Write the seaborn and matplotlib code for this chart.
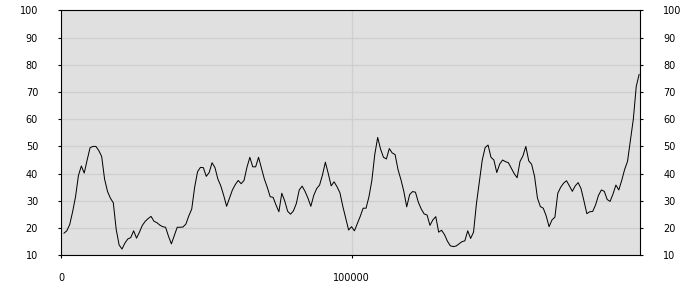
import matplotlib
matplotlib.use("Agg")
import matplotlib.pyplot as plt
import seaborn as sns
import numpy as np
import pandas as pd

# x positions in thousands (1..199) -> data units
x_thousands = list(range(1, 200))
values = [
    18.1, 19, 21.3, 26, 31.5, 39.3, 42.8, 40.2, 45, 49.5, 50, 50, 48.5, 46.3, 38, 33.5, 31, 29.3, 19.5, 13.8,
    12.3, 14.5, 16, 16.5, 19, 16.3, 18.5, 21, 22.5, 23.5, 24.3, 22.5, 22,
    21.1, 20.5, 20.3, 17, 14.2, 17.3, 20.3, 20.3, 20.4, 21.5, 24.5, 27, 35, 40.7, 42.3, 42.2, 39, 40.4, 44,
    42.2, 38, 35.5, 32, 28, 31, 34, 36, 37.5, 36.3, 37.5, 42.3, 46, 42.5,
    42.5, 46, 42, 38, 35, 31.5, 31.3, 28.5, 26, 32.8, 30, 26.2, 25.1, 26.3, 29, 34, 35.4, 33.5, 31, 28,
    32, 34.5, 35.8, 39.5, 44.2, 40, 35.5, 37, 35.2, 33, 28, 23.6, 19.3, 20.5,
    19, 21.7, 24.3, 27.3, 27.3, 31.5, 37.5, 47, 53.3, 49, 46, 45.4, 49.2, 47.6, 47, 41.5, 37.8, 33.5, 27.8,
    32.3, 33.4, 33.2, 29.5, 27, 25.2, 24.8, 21, 23, 24.2, 18.5, 19.2, 17.6, 15.2,
    13.5, 13.2, 13.4, 14.2, 15, 15.3, 19, 16.2, 18.5, 29, 37, 45, 49.6, 50.5, 46, 45, 40.4, 43.5, 45, 44.4,
    44, 42, 40, 38.5, 44.5, 46.5, 50, 44.7, 43.4, 39, 31, 27.9, 27.3,
    24.5, 20.5, 23, 24, 32.8, 35, 36.5, 37.4, 35.5, 33.5, 35.5, 36.7, 34.5, 30, 25.3, 26, 26.1, 28.5, 32, 34,
    33.5, 30.5, 29.8, 32.5, 35.8, 34, 37.5, 41.5, 44.5, 52.3, 60, 72, 76.5,
]
x_ticks = [0, 100000]
x_tick_labels = ["0", "100000"]
y_ticks = [10, 20, 30, 40, 50, 60, 70, 80, 90, 100]
y_tick_labels = [str(v) for v in y_ticks]

df = pd.DataFrame({"x": [k * 1000 for k in x_thousands], "y": values})

sns.set_style("white")
plt.rcParams["font.family"] = ["DejaVu Sans"]

fig = plt.figure(figsize=(7, 3), dpi=100)
ax = fig.add_axes([61 / 700, 1 - 255.3 / 300, (640.3 - 61) / 700, (255.3 - 10.3) / 300])
ax.set_facecolor("#e0e0e0")

sns.lineplot(data=df, x="x", y="y", ax=ax, color="black", linewidth=0.72, antialiased=True)

ax.set_xlim(0, 199400)
ax.set_ylim(10, 100)
ax.set_xticks(x_ticks)
ax.set_xticklabels(x_tick_labels)
ax.set_yticks(y_ticks)
ax.set_yticklabels(y_tick_labels)
ax.set_xlabel("")
ax.set_ylabel("")

ax.grid(True, color="#cfcfcf", linewidth=0.9)
ax.set_axisbelow(True)
for s in ax.spines.values():
    s.set_color("black")
    s.set_linewidth(0.8)
    s.set_visible(True)

ax.tick_params(axis="y", which="both", left=True, right=True, labelleft=True, labelright=True,
               length=2.5, width=0.8, color="black", pad=14, labelsize=7, labelcolor="black")
ax.tick_params(axis="x", which="both", bottom=True, length=2.5, width=0.8, color="black",
               pad=10, labelsize=7, labelcolor="black")

fig.savefig("out.png", dpi=100, facecolor="white")
